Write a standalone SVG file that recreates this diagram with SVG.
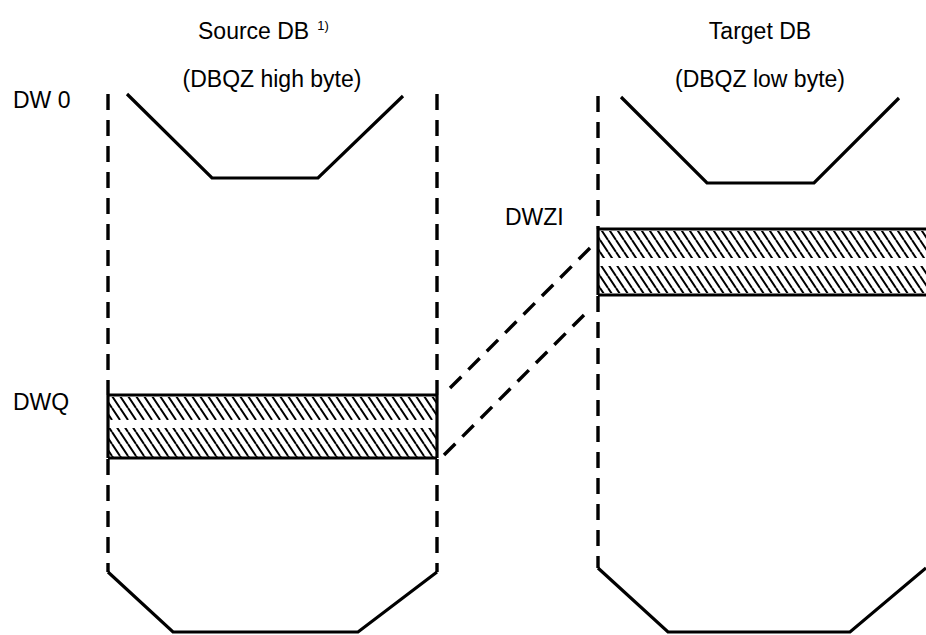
<svg xmlns="http://www.w3.org/2000/svg" width="926" height="635" viewBox="0 0 926 635">
  <defs>
    <pattern id="hatch" patternUnits="userSpaceOnUse" width="8" height="12">
      <path d="M-8,0 L0,12 M0,0 L8,12 M8,0 L16,12" stroke="#000" stroke-width="2" fill="none"/>
    </pattern>
  </defs>
  <style>
    text { font-family: "Liberation Sans", Arial, Helvetica, sans-serif; font-size: 23px; fill: #000; }
    .title { text-anchor: middle; }
    .sup { font-size: 13px; }
    .solid { stroke: #000; stroke-width: 3.2; fill: none; stroke-linejoin: miter; }
    .dash { stroke: #000; stroke-width: 3.4; fill: none; stroke-dasharray: 16 10; }
    .hatch { fill: url(#hatch); stroke: none; }
  </style>
  <rect width="926" height="635" fill="#fff"/>

  <!-- source data block -->
  <g id="source-db">
    <text x="198" y="39">Source DB<tspan class="sup" dx="8" dy="-9">1)</tspan></text>
    <text class="title" x="272" y="87">(DBQZ high byte)</text>
    <text x="13" y="108">DW 0</text>
    <path class="dash" d="M108,94 V395 M108,459 V572"/>
    <path class="dash" d="M437,94 V395 M437,459 V572"/>
    <polyline class="solid" points="127,94 212,178 318,178 403,96"/>
    <polyline class="solid" points="108,572 173,632 358,632 437,572"/>
  </g>

  <!-- source area DWQ -->
  <g id="source-area">
    <text x="13" y="410">DWQ</text>
    <rect class="hatch" x="108" y="397" width="329" height="23"/>
    <rect class="hatch" x="108" y="428" width="329" height="29"/>
    <path class="solid" d="M108,395 H437 M108,458 H437 M108,395 V458 M437,395 V458"/>
  </g>

  <!-- target data block -->
  <g id="target-db">
    <text class="title" x="760" y="39">Target DB</text>
    <text class="title" x="760" y="87">(DBQZ low byte)</text>
    <path class="dash" d="M598,96 V229 M598,296 V568"/>
    <polyline class="solid" points="621,97 707,183 814,183 899,98"/>
    <polyline class="solid" points="598,568 668,632 850,632 926,568"/>
  </g>

  <!-- target area DWZI -->
  <g id="target-area">
    <text x="505" y="225">DWZI</text>
    <rect class="hatch" x="598" y="231" width="328" height="27"/>
    <rect class="hatch" x="598" y="266" width="328" height="27"/>
    <path class="solid" d="M598,229 H926 M598,295 H926 M598,229 V295"/>
  </g>

  <!-- transfer connectors -->
  <g id="connectors">
    <path class="dash" d="M450,388 L592,246"/>
    <path class="dash" d="M444,455 L590,309"/>
  </g>
</svg>
